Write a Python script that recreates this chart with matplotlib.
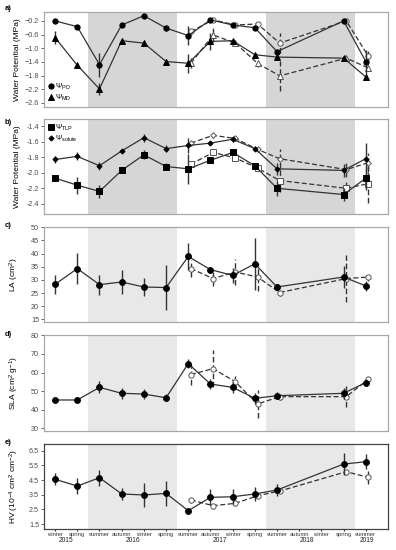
import matplotlib
matplotlib.use('Agg')
import matplotlib.pyplot as plt
from matplotlib.transforms import blended_transform_factory
import numpy as np

plt.rcParams['font.family'] = ['Liberation Sans', 'DejaVu Sans']
plt.rcParams['mathtext.default'] = 'regular'

# x positions (season index) of the two groups
pos_solid = [1, 2, 3, 4, 5, 6, 7, 8, 9, 10, 11, 14, 15]
pos_dash = [7, 8, 9, 10, 11, 14, 15]

seasons = ['winter', 'spring', 'summer', 'autumn', 'winter', 'spring', 'summer', 'autumn',
           'winter', 'spring', 'summer', 'autumn', 'winter', 'spring', 'summer']
years = ['2015', '2016', '2017', '2018', '2019']
year_pos = [1.5, 4.5, 8.45, 12.35, 15.05]

# a) water potential
pd_solid = [-0.20, -0.37, -1.48, -0.32, -0.05, -0.41, -0.63, -0.17, -0.32, -0.40, -1.10, -0.20, -1.39]
pd_solid_err = [0.03, 0.04, 0.35, 0.04, 0.03, 0.08, 0.27, 0.04, 0.04, 0.06, 0.08, 0.04, 0.35]
md_solid = [-0.69, -1.50, -2.19, -0.78, -0.85, -1.39, -1.44, -0.80, -0.78, -1.19, -1.26, -1.29, -1.84]
md_solid_err = [0.18, 0.05, 0.18, 0.04, 0.04, 0.08, 0.28, 0.25, 0.05, 0.04, 0.08, 0.05, 0.05]
pd_dash = [-0.51, -0.17, -0.32, -0.29, -0.85, -0.20, -1.24]
pd_dash_err = [0.10, 0.04, 0.04, 0.04, 0.30, 0.04, 0.15]
md_dash = [-1.44, -0.61, -0.85, -1.44, -1.81, -1.29, -1.58]
md_dash_err = [0.15, 0.20, 0.05, 0.10, 0.45, 0.05, 0.10]

# b) turgor loss point and osmotic potential
tlp_solid = [-2.07, -2.16, -2.24, -1.97, -1.77, -1.92, -1.95, -1.84, -1.74, -1.91, -2.20, -2.28, -2.07]
tlp_solid_err = [0.03, 0.11, 0.08, 0.03, 0.06, 0.05, 0.19, 0.03, 0.03, 0.03, 0.10, 0.08, 0.15]
sol_solid = [-1.83, -1.79, -1.91, -1.72, -1.55, -1.69, -1.65, -1.62, -1.57, -1.69, -1.95, -1.97, -1.82]
sol_solid_err = [0.05, 0.05, 0.05, 0.03, 0.05, 0.05, 0.10, 0.03, 0.03, 0.03, 0.08, 0.08, 0.20]
tlp_dash = [-1.89, -1.74, -1.81, -1.94, -2.10, -2.20, -2.14]
tlp_dash_err = [0.05, 0.03, 0.04, 0.03, 0.15, 0.10, 0.25]
sol_dash = [-1.62, -1.52, -1.56, -1.70, -1.82, -1.96, -1.87]
sol_dash_err = [0.04, 0.03, 0.03, 0.03, 0.12, 0.10, 0.12]

# c) leaf area
la_solid = [28.3, 34.3, 28.2, 29.2, 27.3, 27.1, 38.9, 33.9, 31.7, 36.1, 27.3, 31.1, 27.7]
la_solid_err = [3.5, 6.0, 3.8, 4.5, 3.6, 8.4, 5.2, 1.0, 3.0, 9.8, 1.0, 4.0, 2.0]
la_dash = [34.3, 30.5, 33.0, 31.1, 25.2, 30.5, 31.1]
la_dash_err = [3.1, 3.0, 5.0, 5.3, 1.5, 9.0, 1.5]

# d) specific leaf area
sla_solid = [45.2, 45.2, 52.0, 48.8, 48.4, 46.4, 64.8, 53.8, 52.0, 46.1, 47.5, 48.8, 54.6]
sla_solid_err = [1.0, 1.0, 3.2, 3.0, 2.5, 2.0, 2.5, 2.5, 3.0, 3.0, 2.0, 3.0, 2.0]
sla_dash = [58.9, 62.1, 55.0, 43.0, 47.0, 47.0, 56.4]
sla_dash_err = [5.5, 10.0, 3.0, 7.6, 2.0, 5.5, 1.0]

# e) Huber value
hv_solid = [4.55, 4.09, 4.66, 3.55, 3.48, 3.59, 2.41, 3.32, 3.36, 3.55, 3.82, 5.59, 5.75]
hv_solid_err = [0.40, 0.57, 0.55, 0.40, 0.80, 0.85, 0.05, 0.55, 0.50, 0.45, 0.40, 0.75, 0.50]
hv_dash = [3.14, 2.75, 2.91, 3.43, 3.75, 5.07, 4.68]
hv_dash_err = [0.20, 0.25, 0.15, 0.05, 0.05, 0.20, 0.45]

W, H = 396, 550
fig = plt.figure(figsize=(W / 100, H / 100), dpi=100)

DODGE = 0.12
MS = 3.8


def make_ax(top, bottom, shade):
    ax = fig.add_axes([44 / W, 1 - bottom / H, 344 / W, (bottom - top) / H])
    ax.set_xlim(0.5, 16.0)
    ax.axvspan(2.5, 6.5, color=shade, lw=0, zorder=0)
    ax.axvspan(10.5, 14.5, color=shade, lw=0, zorder=0)
    for s in ax.spines.values():
        s.set_color('#a8a8a8')
        s.set_linewidth(0.9)
    ax.tick_params(axis='y', labelsize=5.2, colors='#4d4d4d', length=2, width=0.6, pad=1.5)
    ax.tick_params(axis='x', length=0, labelbottom=False)
    ax.set_xticks(range(1, 16))
    return ax


def draw(ax, y, yerr, x, marker, ms, filled, dashed, label=None):
    x = np.array(x, dtype=float)
    if dashed:
        x = x + DODGE
        ls = (0, (4, 2))
        mfc = 'white'
        mec = '#555555'
        z = 3
    else:
        ls = '-'
        mfc = 'black'
        mec = 'black'
        z = 4
    ax.plot(x, y, ls=ls, color='#333333', lw=0.9, zorder=z)
    eb = ax.errorbar(x, y, yerr=yerr, fmt='none', ecolor='#333333', elinewidth=1.0,
                     capsize=0, zorder=z)
    if dashed:
        eb[2][0].set_linestyle((0, (4, 2)))
    ax.plot(x, y, ls='none', marker=marker, ms=ms, mfc=mfc, mec=mec, mew=0.7,
            zorder=z + 1, label=label)


def finish(ax, label, txt, ytop):
    ax.set_ylabel(label, fontsize=6)
    ax.yaxis.set_label_coords(-0.068, 0.5)
    fig.text(5 / W, 1 - ytop / H, txt, fontsize=5.5, fontweight='bold',
             ha='left', va='center')


# ---- a
ax = make_ax(12, 107, '#d6d6d6')
draw(ax, pd_dash, pd_dash_err, pos_dash, 'o', MS, False, True)
draw(ax, md_dash, md_dash_err, pos_dash, '^', MS, False, True)
draw(ax, pd_solid, pd_solid_err, pos_solid, 'o', MS, True, False, r'$\Psi_{PD}$')
draw(ax, md_solid, md_solid_err, pos_solid, '^', MS, True, False, r'$\Psi_{MD}$')
ax.set_ylim(-2.72, 0.06)
ax.set_yticks([-0.2, -0.6, -1.0, -1.4, -1.8, -2.2, -2.6])
ax.legend(loc='lower left', frameon=False, fontsize=5.5, handlelength=0.8,
          handletextpad=0.2, labelspacing=0.1, borderaxespad=0.3, borderpad=0.2)
finish(ax, 'Water Potential (MPa)', 'a)', 9)

# ---- b
ax = make_ax(119, 214, '#d6d6d6')
draw(ax, tlp_dash, tlp_dash_err, pos_dash, 's', MS, False, True)
draw(ax, sol_dash, sol_dash_err, pos_dash, 'D', 2.8, False, True)
draw(ax, tlp_solid, tlp_solid_err, pos_solid, 's', MS, True, False, r'$\Psi_{TLP}$')
draw(ax, sol_solid, sol_solid_err, pos_solid, 'D', 2.6, True, False, r'$\Psi_{solute}$')
ax.set_ylim(-2.53, -1.31)
ax.set_yticks([-1.4, -1.6, -1.8, -2.0, -2.2, -2.4])
ax.set_yticklabels(['-1.4', '-1.6', '-1.8', '-2.0', '-2.2', '-2.4'])
ax.legend(loc='upper left', frameon=False, fontsize=5.5, handlelength=0.8,
          handletextpad=0.2, labelspacing=0.1, borderaxespad=0.3, borderpad=0.2)
finish(ax, 'Water Potential (MPa)', 'b)', 123)

# ---- c
ax = make_ax(227, 322, '#e8e8e8')
draw(ax, la_dash, la_dash_err, pos_dash, 'o', MS, False, True)
draw(ax, la_solid, la_solid_err, pos_solid, 'o', 4.2, True, False)
ax.set_ylim(14.0, 50.1)
ax.set_yticks(range(15, 51, 5))
finish(ax, 'LA (cm$^2$)', 'c)', 225)

# ---- d
ax = make_ax(335, 431, '#e8e8e8')
draw(ax, sla_dash, sla_dash_err, pos_dash, 'o', MS, False, True)
draw(ax, sla_solid, sla_solid_err, pos_solid, 'o', 4.2, True, False)
ax.set_ylim(28.5, 80.2)
ax.set_yticks(range(30, 81, 10))
finish(ax, 'SLA (cm$^2$ g$^{-1}$)', 'd)', 334)

# ---- e
ax = make_ax(444, 529, '#e8e8e8')
draw(ax, hv_dash, hv_dash_err, pos_dash, 'o', MS, False, True)
draw(ax, hv_solid, hv_solid_err, pos_solid, 'o', 4.2, True, False)
ax.set_ylim(1.16, 6.96)
ax.set_yticks([1.5, 2.5, 3.5, 4.5, 5.5, 6.5])
for s in ax.spines.values():
    s.set_color('#444444')
ax.tick_params(axis='x', labelbottom=True, labelsize=4.2, colors='#333333', length=1.5,
               pad=0.5)
ax.set_xticklabels(seasons)
trans = blended_transform_factory(ax.transData, ax.transAxes)
for yr, xp in zip(years, year_pos):
    ax.text(xp, -0.135, yr, transform=trans, ha='center', va='center', fontsize=4.8,
            color='#222222')
finish(ax, 'HV (10$^{-4}$ cm$^2$ cm$^{-2}$)', 'e)', 442)

fig.savefig('out.png', dpi=100)
